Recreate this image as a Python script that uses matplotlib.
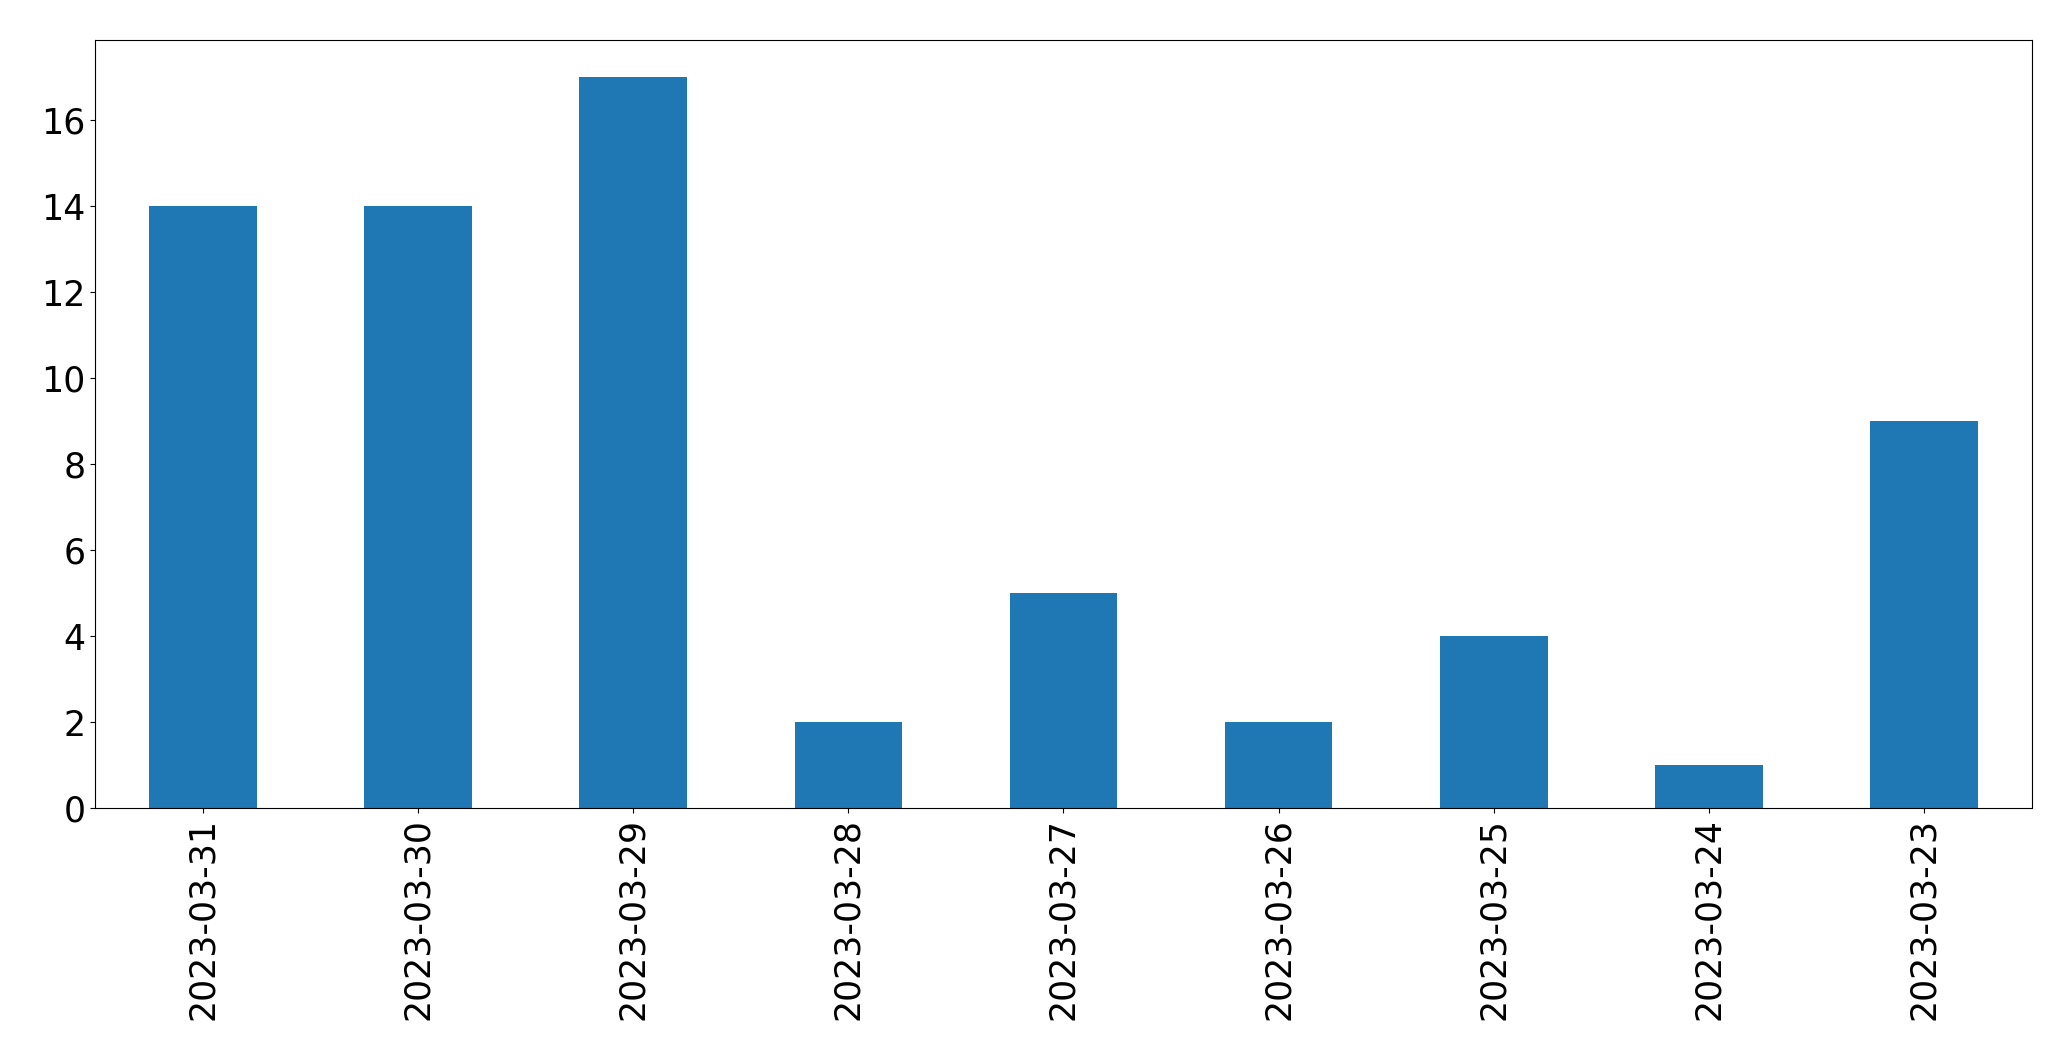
import matplotlib
matplotlib.use("Agg")
import matplotlib.pyplot as plt
import numpy as np

dates = ["2023-03-31", "2023-03-30", "2023-03-29", "2023-03-28", "2023-03-27",
         "2023-03-26", "2023-03-25", "2023-03-24", "2023-03-23"]
counts = [14, 14, 17, 2, 5, 2, 4, 1, 9]

fig, ax = plt.subplots(figsize=(20.71, 10.61), dpi=100)
x = np.arange(len(dates))
ax.bar(x, counts, width=0.5, color="#1f77b4")
ax.set_xticks(x)
ax.set_xticklabels(dates, rotation=90)
ax.set_xlim(-0.5, len(dates) - 0.5)
ax.tick_params(labelsize=25)
fig.subplots_adjust(left=0.046, right=0.981, top=0.962, bottom=0.238)
fig.savefig("out.png")
